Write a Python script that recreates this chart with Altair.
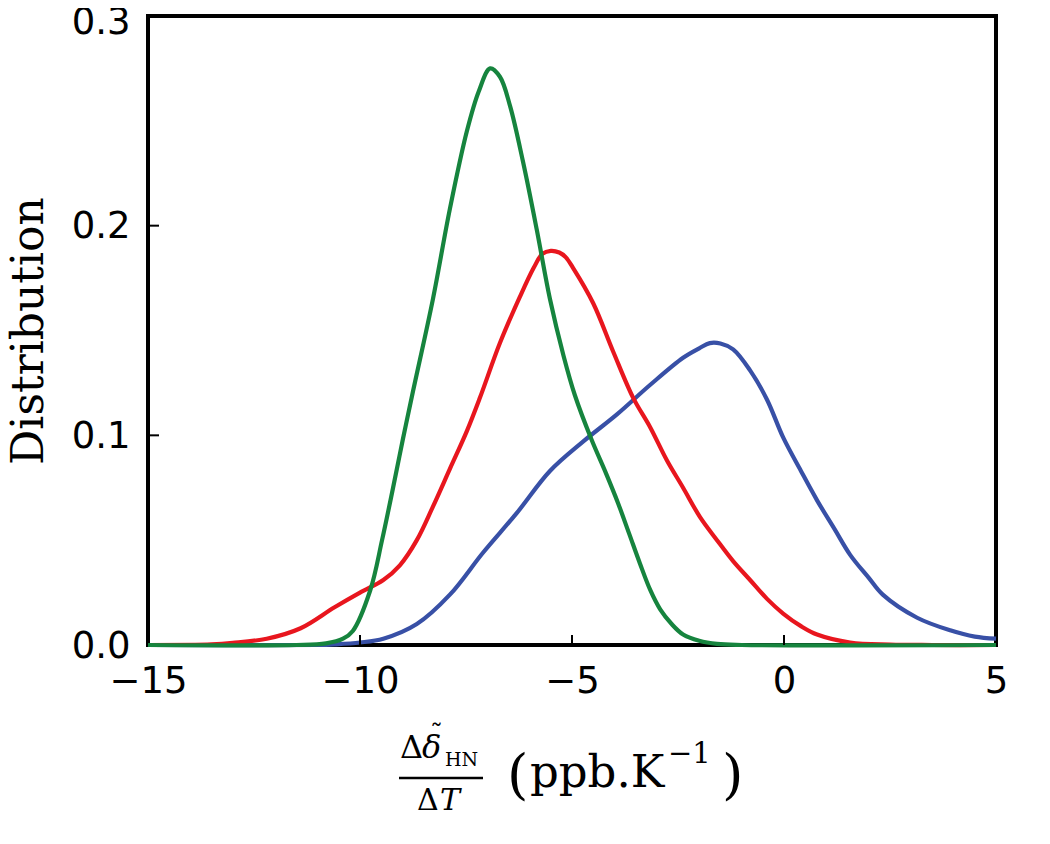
import altair as alt
import pandas as pd

# ---- data ----
green_x = [-15, -11.5, -10.8, -10.4, -10.17, -9.76, -9.48, -9.22, -8.99, -8.75, -8.28, -7.88, -7.48, -7.2, -6.93,
           -6.7, -6.46, -6.15, -5.83, -5.52, -5.2, -4.93, -4.54, -4.2, -3.92, -3.65, -3.40, -3.15, -2.92, -2.65,
           -2.38, -2.0, -1.58, -1.0, 5]
green_y = [0, 0, 0.0008, 0.003, 0.0067, 0.026, 0.050, 0.075, 0.098, 0.121, 0.165, 0.208, 0.245, 0.264, 0.275,
           0.271, 0.257, 0.230, 0.198, 0.165, 0.138, 0.119, 0.098, 0.082, 0.068, 0.053, 0.039, 0.026, 0.017, 0.010,
           0.005, 0.002, 0.0005, 0, 0]

red_x = [-15, -13.5, -13.0, -12.2, -11.4, -10.6, -10.0, -9.45, -9.06, -8.66, -8.28, -7.88, -7.48, -7.17, -6.70,
         -6.23, -5.9, -5.7, -5.5, -5.3, -5.15, -4.98, -4.50, -4.03, -3.56, -3.16, -2.76, -2.38, -1.98, -1.58,
         -1.20, -0.80, -0.40, -0.02, 0.4, 0.78, 1.56, 2.5, 3.5, 5]
red_y = [0, 0.0003, 0.001, 0.003, 0.008, 0.018, 0.025, 0.031, 0.038, 0.050, 0.066, 0.084, 0.102, 0.118, 0.144,
         0.166, 0.180, 0.1865, 0.188, 0.1872, 0.185, 0.180, 0.163, 0.140, 0.118, 0.104, 0.088, 0.075, 0.061,
         0.050, 0.040, 0.031, 0.022, 0.015, 0.009, 0.005, 0.0012, 0.0002, 0, 0]

blue_x = [-15, -11, -10.6, -10.0, -9.45, -8.66, -7.88, -7.10, -6.30, -5.52, -4.74, -3.94, -3.16, -2.38, -2.0,
          -1.75, -1.5, -1.2, -0.8, -0.4, -0.02, 0.4, 0.78, 1.2, 1.56, 2.0, 2.33, 3.14, 3.92, 4.5, 5.0]
blue_y = [0, 0, 0.0003, 0.0012, 0.003, 0.010, 0.024, 0.044, 0.063, 0.083, 0.097, 0.110, 0.124, 0.137, 0.1415,
          0.1440, 0.1438, 0.141, 0.131, 0.117, 0.099, 0.083, 0.069, 0.055, 0.043, 0.032, 0.024, 0.013, 0.007,
          0.004, 0.003]

series_names = ["blue", "red", "green"]
series_colors = ["#3850a6", "#e8161e", "#16843e"]

x_ticks = [-15, -10, -5, 0, 5]
y_ticks = [0.0, 0.1, 0.2, 0.3]
x_inner_ticks = [-10, -5, 0]
y_inner_ticks = [0.1, 0.2]

W, H = 848, 629

xscale = alt.Scale(domain=[-15, 5], nice=False, zero=False)
yscale = alt.Scale(domain=[0, 0.3], nice=False)

xaxis = alt.Axis(values=x_ticks, format="d", title="", ticks=False, tickSize=0, domain=False, grid=False,
                 labelFont="DejaVu Sans", labelFontSize=37, labelColor="black", labelPadding=18,
                 labelFlush=False)
yaxis = alt.Axis(values=y_ticks, format=".1f", title="Distribution", ticks=False, tickSize=0, domain=False,
                 grid=False, labelFont="DejaVu Sans", labelFontSize=37, labelColor="black", labelPadding=18,
                 labelFlush=False,
                 labelOffset={"condition": {"test": "datum.value >= 0.29", "value": 6}, "value": 1},
                 titleFont="DejaVu Serif", titleFontSize=44, titleFontWeight="normal",
                 titleColor="black", titleAngle=270, titleBaseline="alphabetic", titleAlign="center",
                 titleX=-106, titleY=H / 2)

X = alt.X("x:Q", scale=xscale, axis=xaxis)
Y = alt.Y("y:Q", scale=yscale, axis=yaxis)

data_map = {"blue": (blue_x, blue_y), "red": (red_x, red_y), "green": (green_x, green_y)}

layers = []
for i, name in enumerate(series_names):
    xs, ys = data_map[name]
    df = pd.DataFrame({"x": xs, "y": ys})
    layers.append(
        alt.Chart(df).mark_line(color=series_colors[i], strokeWidth=4.2, interpolate="catmull-rom")
        .encode(x=X, y=Y)
    )

# inward ticks
xt = alt.Chart(pd.DataFrame({"x": x_inner_ticks})).mark_rule(color="black", strokeWidth=2).encode(
    x=X, y=alt.value(H), y2=alt.value(H - 10))
yt = alt.Chart(pd.DataFrame({"y": y_inner_ticks})).mark_rule(color="black", strokeWidth=2).encode(
    y=Y, x=alt.value(0), x2=alt.value(11))
layers += [xt, yt]


def label(txt, x, y, size, italic=False, align="left"):
    return alt.Chart(pd.DataFrame({"t": [txt]})).mark_text(
        text=txt, font="DejaVu Serif", fontSize=size, fontStyle="italic" if italic else "normal",
        align=align, baseline="alphabetic", color="black"
    ).encode(x=alt.value(x), y=alt.value(y))


# x-axis title: fraction  Δδ̃_HN / ΔT  (ppb.K^-1)
layers += [
    label("Δ", 252, 742, 32),
    label("δ", 274, 742, 32, italic=True),
    label("˜", 282, 727, 26),
    label("HN", 297, 750, 19),
    alt.Chart(pd.DataFrame({"t": [0]})).mark_rule(color="black", strokeWidth=2.5).encode(
        x=alt.value(251), x2=alt.value(335), y=alt.value(762)),
    label("Δ", 269, 794, 30),
    label("T", 292, 794, 30, italic=True),
    label("(", 359, 777, 55),
    label("ppb.K", 382, 771, 45),
    label("−1", 520, 747, 29),
    label(")", 574, 777, 55),
]

chart = alt.layer(*layers).properties(
    width=W, height=H,
    background="white",
    autosize=alt.AutoSizeParams(type="none"),
    padding={"left": 140, "top": 8, "right": 30, "bottom": 190},
).configure_view(stroke="black", strokeWidth=4)

chart.save("out.html", embed_options={"renderer": "svg", "actions": False})
